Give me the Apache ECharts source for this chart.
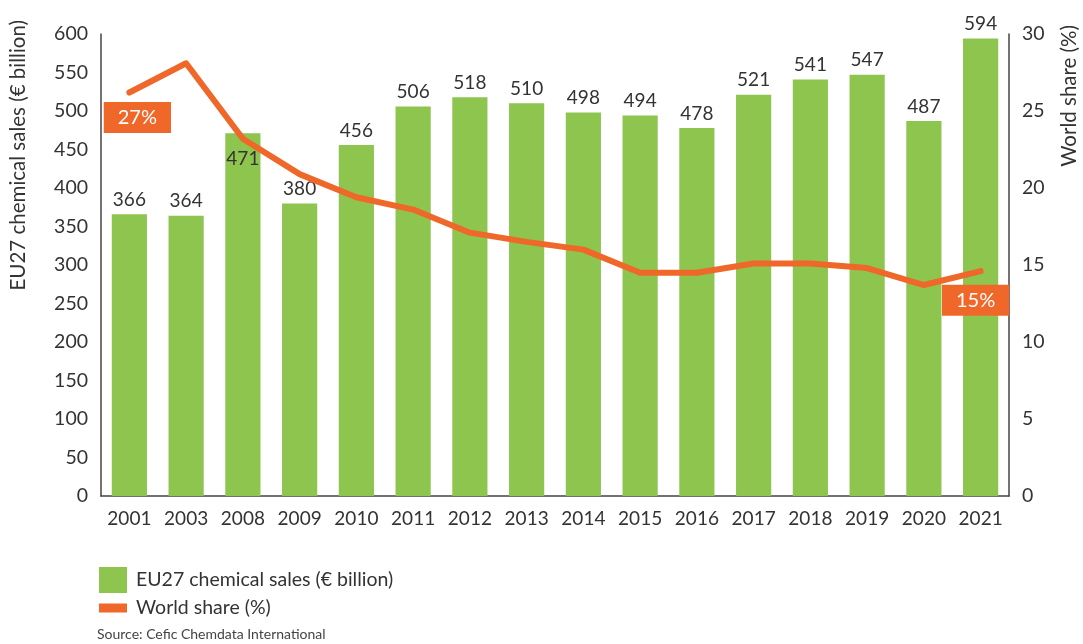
<!DOCTYPE html>
<html>
<head>
<meta charset="utf-8">
<script src="https://cdn.jsdelivr.net/npm/echarts@6/dist/echarts.min.js"></script>
<style>
  html, body { margin: 0; padding: 0; background: #fff; }
  #chart { width: 1083px; height: 644px; }
</style>
</head>
<body>
<div id="chart"></div>
<script>
// data
const years = ["2001", "2003", "2008", "2009", "2010", "2011", "2012", "2013",
  "2014", "2015", "2016", "2017", "2018", "2019", "2020", "2021"];
const sales = [366, 364, 471, 380, 456, 506, 518, 510, 498, 494, 478, 521, 541, 547, 487, 594];
const worldShare = [26.2, 28.1, 23.2, 20.9, 19.4, 18.6, 17.1, 16.5, 16.0, 14.5, 14.5, 15.1, 15.1, 14.8, 13.7, 14.6];
const shareNotes = { 0: "27%", 15: "15%" };

const green = "#8dc54f";
const orange = "#f0672a";
const textColor = "#333";
const font = "Lato";

const chart = echarts.init(document.getElementById("chart"));

const barData = sales.map((v, i) => {
  // 2008 value sits inside the bar top
  if (years[i] === "2008") {
    return { value: v, label: { position: "insideTop", distance: 16 } };
  }
  return v;
});

const lineData = worldShare.map((v, i) => {
  if (shareNotes[i] === undefined) return v;
  return {
    value: v,
    label: {
      show: true,
      formatter: shareNotes[i],
      position: "inside",
      offset: i === 0 ? [8, 25] : [-5, 29],
      color: "#fff",
      fontFamily: font,
      fontSize: 20,
      backgroundColor: orange,
      padding: [6, 14, 5, 14],
    },
  };
});

const option = {
  backgroundColor: "#fff",
  animation: false,
  textStyle: { fontFamily: font },
  grid: { left: 101, right: 74, top: 34, bottom: 148 },
  legend: [
    {
      orient: "vertical",
      left: 94,
      top: 562,
      data: ["EU27 chemical sales (€ billion)"],
      itemWidth: 28,
      itemHeight: 26,
      icon: "rect",
      textStyle: { color: textColor, fontSize: 19.5, fontFamily: font, padding: [0, 0, 0, 4] },
    },
    {
      orient: "vertical",
      left: 94,
      top: 593,
      data: ["World share (%)"],
      itemWidth: 28,
      itemHeight: 9,
      icon: "rect",
      textStyle: { color: textColor, fontSize: 19.5, fontFamily: font, padding: [0, 0, 0, 4] },
    },
  ],
  xAxis: {
    type: "category",
    data: years,
    axisLine: { lineStyle: { color: "#444", width: 1.5 } },
    axisTick: { show: false },
    axisLabel: { color: textColor, fontSize: 19, fontFamily: font, margin: 13, interval: 0 },
  },
  yAxis: [
    {
      type: "value",
      min: 0,
      max: 600,
      interval: 50,
      axisLine: { show: true, lineStyle: { color: "#444", width: 1.5 } },
      axisTick: { show: false },
      splitLine: { show: false },
      axisLabel: { color: textColor, fontSize: 19.5, fontFamily: font, margin: 13 },
    },
    {
      type: "value",
      min: 0,
      max: 30,
      interval: 5,
      position: "right",
      axisLine: { show: true, lineStyle: { color: "#444", width: 1.5 } },
      axisTick: { show: false },
      splitLine: { show: false },
      axisLabel: { color: textColor, fontSize: 19.5, fontFamily: font, margin: 13 },
    },
  ],
  series: [
    {
      name: "EU27 chemical sales (€ billion)",
      type: "bar",
      data: barData,
      barWidth: "62%",
      itemStyle: { color: green },
      label: {
        show: true,
        position: "top",
        distance: 5,
        color: textColor,
        fontSize: 19,
        fontFamily: font,
      },
      z: 2,
    },
    {
      name: "World share (%)",
      type: "line",
      yAxisIndex: 1,
      data: lineData,
      symbol: "circle",
      symbolSize: 0,
      showSymbol: true,
      lineStyle: { color: orange, width: 6, cap: "round", join: "round" },
      itemStyle: { color: orange },
      z: 3,
    },
  ],
  graphic: [
    {
      type: "text",
      left: 8,
      top: 20,
      rotation: Math.PI / 2,
      style: {
        text: "EU27 chemical sales (€ billion)",
        fill: textColor,
        font: "20.5px Lato",
      },
    },
    {
      type: "text",
      left: 1059,
      top: 25,
      rotation: Math.PI / 2,
      style: {
        text: "World share (%)",
        fill: textColor,
        font: "20.5px Lato",
      },
    },
    {
      type: "text",
      left: 97,
      top: 627,
      style: {
        text: "Source: Cefic Chemdata International",
        fill: "#444",
        font: "14px Lato",
      },
    },
  ],
};

chart.setOption(option);
</script>
</body>
</html>
